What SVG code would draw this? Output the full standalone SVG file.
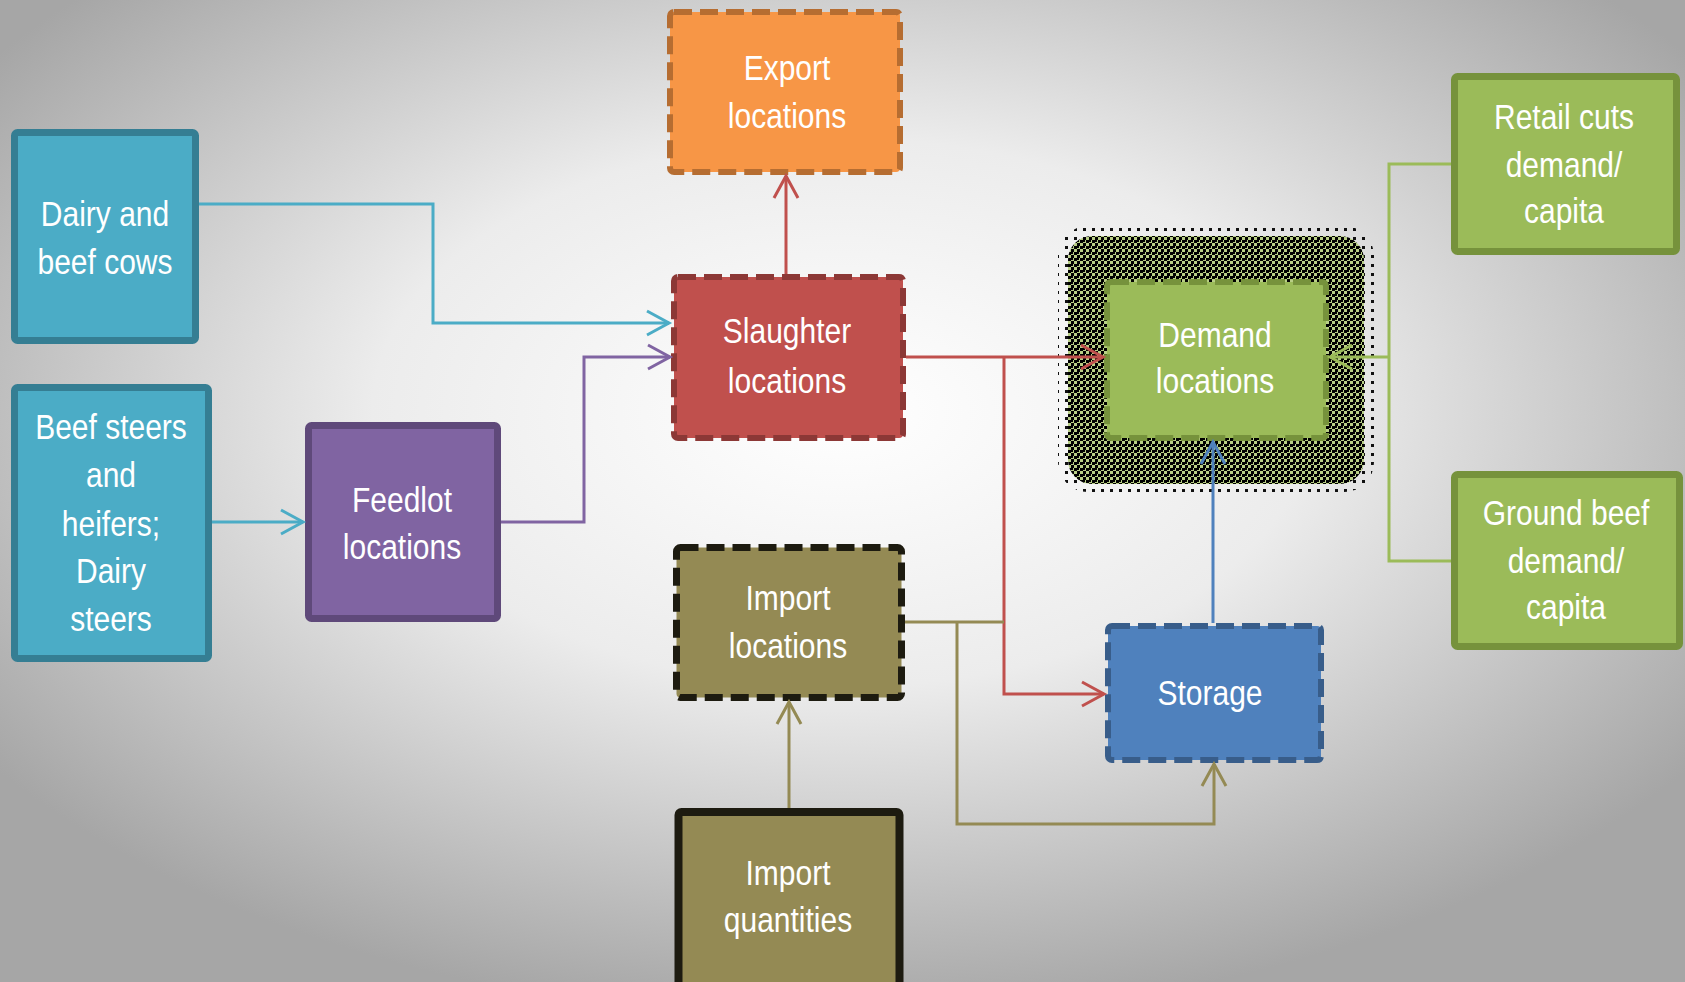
<svg xmlns="http://www.w3.org/2000/svg" width="1685" height="982" viewBox="0 0 1685 982">
<defs>
<radialGradient id="bg" cx="50%" cy="42%" r="62%">
<stop offset="0" stop-color="#ffffff"/>
<stop offset="0.45" stop-color="#ececec"/>
<stop offset="1" stop-color="#a6a6a6"/>
</radialGradient>
<pattern id="dense" width="6" height="6" patternUnits="userSpaceOnUse">
<rect width="6" height="6" fill="#b9cf86"/>
<rect width="3" height="3" fill="#000"/>
<rect x="3" y="3" width="3" height="3" fill="#000"/>
<rect x="3" y="0" width="2" height="2" fill="#000"/>
</pattern>
<pattern id="sparse" width="9" height="9" patternUnits="userSpaceOnUse">
<rect x="3" y="3" width="3" height="3" fill="#111"/>
</pattern>
<marker id="a-teal" markerUnits="userSpaceOnUse" markerWidth="30" markerHeight="30" viewBox="-26 -15 30 30" refX="0" refY="0" orient="auto"><path d="M-22,-12 L0,0 L-22,12" fill="none" stroke="#4BACC6" stroke-width="3"/></marker>
<marker id="a-purple" markerUnits="userSpaceOnUse" markerWidth="30" markerHeight="30" viewBox="-26 -15 30 30" refX="0" refY="0" orient="auto"><path d="M-22,-12 L0,0 L-22,12" fill="none" stroke="#8064A2" stroke-width="3"/></marker>
<marker id="a-red" markerUnits="userSpaceOnUse" markerWidth="30" markerHeight="30" viewBox="-26 -15 30 30" refX="0" refY="0" orient="auto"><path d="M-22,-12 L0,0 L-22,12" fill="none" stroke="#C0504D" stroke-width="3"/></marker>
<marker id="a-olive" markerUnits="userSpaceOnUse" markerWidth="30" markerHeight="30" viewBox="-26 -15 30 30" refX="0" refY="0" orient="auto"><path d="M-22,-12 L0,0 L-22,12" fill="none" stroke="#948A54" stroke-width="3"/></marker>
<marker id="a-blue" markerUnits="userSpaceOnUse" markerWidth="30" markerHeight="30" viewBox="-26 -15 30 30" refX="0" refY="0" orient="auto"><path d="M-22,-12 L0,0 L-22,12" fill="none" stroke="#4F81BD" stroke-width="3"/></marker>
<marker id="a-green" markerUnits="userSpaceOnUse" markerWidth="30" markerHeight="30" viewBox="-26 -15 30 30" refX="0" refY="0" orient="auto"><path d="M-22,-12 L0,0 L-22,12" fill="none" stroke="#9BBB59" stroke-width="3"/></marker>
</defs>
<style>
.t{fill:#fff;font-family:"Liberation Sans",Arial,sans-serif;font-size:30px;text-anchor:middle}
.c{fill:none;stroke-width:3;stroke-linejoin:miter}
.dash{stroke-dasharray:18 8;stroke-linecap:butt}
</style>
<rect width="1685" height="982" fill="url(#bg)"/>

<g id="dairy-beef-cows">
<rect x="14.5" y="132.5" width="181" height="208" rx="3" fill="#4BACC6" stroke="#357E93" stroke-width="7"/>
<text class="t" transform="translate(105,226) scale(1,1.18)"><tspan x="0" y="0">Dairy and</tspan><tspan x="0" y="41">beef cows</tspan></text>
</g>

<g id="beef-steers">
<rect x="14.5" y="387.5" width="194" height="271" rx="3" fill="#4BACC6" stroke="#357E93" stroke-width="7"/>
<text class="t" transform="translate(111,439) scale(1,1.18)"><tspan x="0" y="0">Beef steers</tspan><tspan x="0" y="41">and</tspan><tspan x="0" y="82">heifers;</tspan><tspan x="0" y="122">Dairy</tspan><tspan x="0" y="163">steers</tspan></text>
</g>

<g id="feedlot">
<rect x="308.5" y="425.5" width="189" height="193" rx="3" fill="#8064A2" stroke="#5F497A" stroke-width="7"/>
<text class="t" transform="translate(402,512) scale(1,1.18)"><tspan x="0" y="0">Feedlot</tspan><tspan x="0" y="40">locations</tspan></text>
</g>

<g id="export">
<rect x="670" y="12" width="230" height="160" rx="4" fill="#F79646" stroke="#B66D31" stroke-width="6" class="dash"/>
<text class="t" transform="translate(787,80) scale(1,1.18)"><tspan x="0" y="0">Export</tspan><tspan x="0" y="41">locations</tspan></text>
</g>

<g id="slaughter">
<rect x="674" y="277" width="229" height="161" rx="4" fill="#C0504D" stroke="#8C3836" stroke-width="6" class="dash"/>
<text class="t" transform="translate(787,343) scale(1,1.18)"><tspan x="0" y="0">Slaughter</tspan><tspan x="0" y="42">locations</tspan></text>
</g>

<g id="demand">
<rect x="1058" y="226" width="316" height="266" rx="30" fill="url(#sparse)"/>
<rect x="1068" y="236" width="296" height="248" rx="24" fill="url(#dense)"/>
<rect x="1107" y="282" width="219" height="156" rx="4" fill="#9BBB59" stroke="#76923C" stroke-width="6" class="dash"/>
<text class="t" transform="translate(1215,347) scale(1,1.18)"><tspan x="0" y="0">Demand</tspan><tspan x="0" y="39">locations</tspan></text>
</g>

<g id="import-locations">
<rect x="676.5" y="547.5" width="225" height="150" rx="4" fill="#948A54" stroke="#1D1B10" stroke-width="7" class="dash"/>
<text class="t" transform="translate(788,610) scale(1,1.18)"><tspan x="0" y="0">Import</tspan><tspan x="0" y="41">locations</tspan></text>
</g>

<g id="import-quantities">
<rect x="678.5" y="812" width="221" height="180" rx="3" fill="#948A54" stroke="#1D1B10" stroke-width="8"/>
<text class="t" transform="translate(788,885) scale(1,1.18)"><tspan x="0" y="0">Import</tspan><tspan x="0" y="40">quantities</tspan></text>
</g>

<g id="storage">
<rect x="1108" y="626" width="213" height="134" rx="4" fill="#4F81BD" stroke="#385D8A" stroke-width="6" class="dash"/>
<text class="t" transform="translate(1210,705) scale(1,1.18)">Storage</text>
</g>

<g id="retail-cuts">
<rect x="1454.5" y="76.5" width="222" height="175" rx="3" fill="#9BBB59" stroke="#76923C" stroke-width="7"/>
<text class="t" transform="translate(1564,129) scale(1,1.18)"><tspan x="0" y="0">Retail cuts</tspan><tspan x="0" y="41">demand/</tspan><tspan x="0" y="80">capita</tspan></text>
</g>

<g id="ground-beef">
<rect x="1454.5" y="474.5" width="225" height="172" rx="3" fill="#9BBB59" stroke="#76923C" stroke-width="7"/>
<text class="t" transform="translate(1566,525) scale(1,1.18)"><tspan x="0" y="0">Ground beef</tspan><tspan x="0" y="41">demand/</tspan><tspan x="0" y="80">capita</tspan></text>
</g>

<g id="connectors">
<path class="c" stroke="#4BACC6" d="M199,204 H433 V323 H669" marker-end="url(#a-teal)"/>
<path class="c" stroke="#4BACC6" d="M212,522 H303" marker-end="url(#a-teal)"/>
<path class="c" stroke="#8064A2" d="M501,522 H584 V357 H670" marker-end="url(#a-purple)"/>
<path class="c" stroke="#C0504D" d="M786,274 V176" marker-end="url(#a-red)"/>
<path class="c" stroke="#C0504D" d="M906,357 H1103" marker-end="url(#a-red)"/>
<path class="c" stroke="#C0504D" d="M1004,357 V694 H1104" marker-end="url(#a-red)"/>
<path class="c" stroke="#948A54" d="M905,622 H1004"/>
<path class="c" stroke="#948A54" d="M957,622 V824 H1214 V764" marker-end="url(#a-olive)"/>
<path class="c" stroke="#948A54" d="M789,808 V702" marker-end="url(#a-olive)"/>
<path class="c" stroke="#4F81BD" d="M1213,623 V442" marker-end="url(#a-blue)"/>
<path class="c" stroke="#9BBB59" d="M1451,164 H1389 V561 H1451"/>
<path class="c" stroke="#9BBB59" d="M1389,357 H1330" marker-end="url(#a-green)"/>
</g>
</svg>
